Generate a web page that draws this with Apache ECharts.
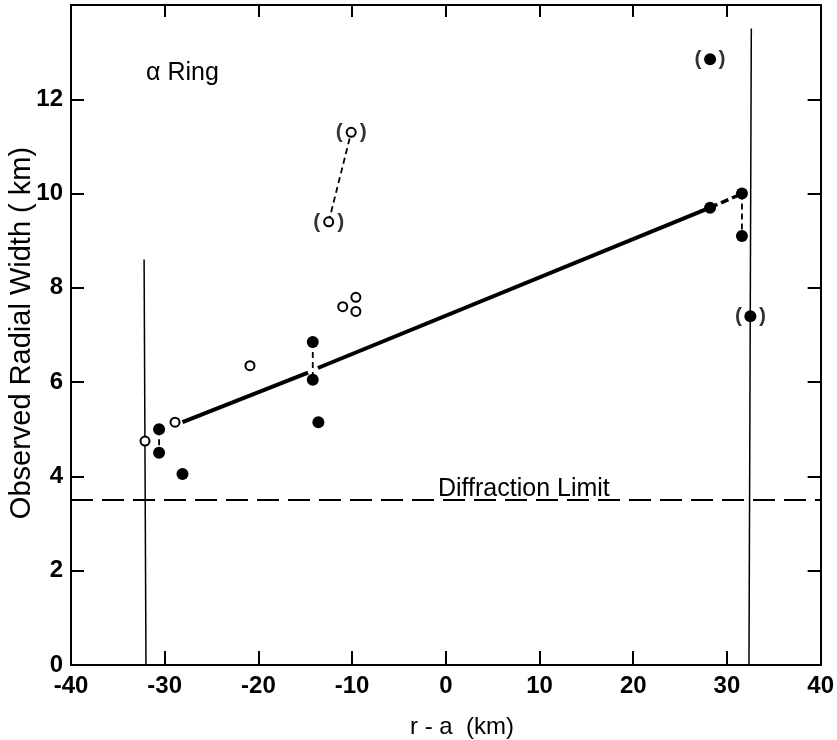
<!DOCTYPE html>
<html>
<head>
<meta charset="utf-8">
<script src="https://cdn.jsdelivr.net/npm/echarts@6/dist/echarts.min.js"></script>
<style>
  html, body { margin: 0; padding: 0; background: #fff; }
  #myChart { width: 837px; height: 740px; }
</style>
</head>
<body>
<div id="myChart"></div>
<script>
// ---- data (x = r-a in km, y = observed width in km)
var openPts = [[-32.1, 4.75], [-28.9, 5.15], [-20.9, 6.35], [-11.0, 7.6], [-9.6, 7.8], [-9.6, 7.5]];
var openParenPts = [[-12.5, 9.4], [-10.1, 11.3]];
var filledPts = [[-30.6, 5.0], [-30.6, 4.5], [-28.1, 4.05], [-14.2, 6.85], [-14.2, 6.05],
  [-13.6, 5.15], [28.2, 9.7], [31.6, 10.0], [31.6, 9.1]];
var filledParenPts = [[28.2, 12.85], [32.5, 7.4]];

var fitLineA = [[-28.1, 5.15], [-14.7, 6.2]];
var fitLineB = [[-13.65, 6.3], [28.2, 9.7]];
var fitLineEnd = [[28.2, 9.7], [31.6, 10.0]];

var pairLinks = [
  [[-30.6, 5.0], [-30.6, 4.5]],
  [[-14.2, 6.85], [-14.2, 6.05]],
  [[-12.5, 9.4], [-10.1, 11.3]],
  [[31.6, 10.0], [31.6, 9.1]]
];

var diffractionLimit = 3.5;
var leftEdge = [[-32.0, 0], [-32.2, 8.6]];
var rightEdge = [[32.35, 0], [32.6, 13.5]];

var xTicks = { min: -40, max: 40, step: 10 };
var yTicks = { min: 0, max: 14, step: 2 };

var FONT = "Liberation Sans";

function linkSeries(pts, width, dash) {
  return {
    type: "line",
    data: pts,
    symbol: "none",
    silent: true,
    z: 2,
    lineStyle: { color: "#000", width: width, type: dash },
  };
}

// one bracket glyph beside each doubtful point
function parenSeries(glyph, dx) {
  return {
    type: "scatter",
    data: openParenPts.concat(filledParenPts),
    symbolSize: 1,
    silent: true,
    itemStyle: { color: "rgba(0,0,0,0)" },
    label: {
      show: true,
      position: "inside",
      offset: [dx, 0],
      formatter: glyph,
      color: "#000",
      fontFamily: FONT,
      fontWeight: "bold",
      fontSize: 21,
    },
    z: 6,
  };
}

var series = [];

// diffraction limit across the whole frame
series.push(linkSeries([[xTicks.min, diffractionLimit], [xTicks.max, diffractionLimit]], 2, [22, 9]));
series.push(linkSeries(leftEdge, 1.5, "solid"));
series.push(linkSeries(rightEdge, 1.5, "solid"));
series.push(linkSeries(fitLineA, 4, "solid"));
series.push(linkSeries(fitLineB, 4, "solid"));
series.push(linkSeries(fitLineEnd, 3.5, [8, 4]));
for (var i = 0; i < pairLinks.length; i++) {
  series.push(linkSeries(pairLinks[i], 1.8, [6, 4]));
}

series.push({
  type: "scatter",
  data: openPts.concat(openParenPts),
  symbol: "circle",
  symbolSize: 9,
  z: 5,
  itemStyle: { color: "#fff", borderColor: "#000", borderWidth: 2, opacity: 1 },
});
series.push({
  type: "scatter",
  data: filledPts.concat(filledParenPts),
  symbol: "circle",
  symbolSize: 12,
  z: 5,
  itemStyle: { color: "#000", opacity: 1 },
});
series.push(parenSeries("(", -12));
series.push(parenSeries(")", 12));

var axisLine = { show: true, onZero: false, lineStyle: { color: "#000", width: 2 } };
var tickStyle = { color: "#000", width: 2 };

var myChart = echarts.init(document.getElementById("myChart"));
var option = {
  backgroundColor: "#fff",
  animation: false,
  grid: { left: 71, right: 16, top: 5, bottom: 75 },
  xAxis: [
    {
      type: "value",
      min: xTicks.min,
      max: xTicks.max,
      interval: xTicks.step,
      axisLine: axisLine,
      axisTick: { inside: true, length: 14, lineStyle: tickStyle },
      axisLabel: { color: "#000", fontFamily: FONT, fontWeight: "bold", fontSize: 24, margin: 9 },
      splitLine: { show: false },
    },
    {
      type: "value",
      position: "top",
      min: xTicks.min,
      max: xTicks.max,
      interval: xTicks.step,
      axisLine: axisLine,
      axisTick: { inside: true, length: 12, lineStyle: tickStyle },
      axisLabel: { show: false },
      splitLine: { show: false },
    },
  ],
  yAxis: [
    {
      type: "value",
      min: yTicks.min,
      max: yTicks.max,
      interval: yTicks.step,
      axisLine: axisLine,
      axisTick: { show: true, inside: true, length: 13, lineStyle: tickStyle },
      axisLabel: {
        color: "#000",
        fontFamily: FONT,
        fontWeight: "bold",
        fontSize: 24,
        margin: 8,
        formatter: function (v) {
          return v === yTicks.max ? "" : String(v);
        },
      },
      splitLine: { show: false },
    },
    {
      type: "value",
      position: "right",
      min: yTicks.min,
      max: yTicks.max,
      interval: yTicks.step,
      axisLine: axisLine,
      axisTick: { show: true, inside: true, length: 13, lineStyle: tickStyle },
      axisLabel: { show: false },
      splitLine: { show: false },
    },
  ],
  graphic: [
    {
      type: "text",
      x: 22,
      y: 333,
      rotation: Math.PI / 2,
      style: {
        text: "Observed Radial Width ( km)",
        font: "29px 'Liberation Sans'",
        fill: "#000",
        align: "center",
        verticalAlign: "middle",
      },
    },
    {
      type: "text",
      x: 462,
      y: 727,
      style: {
        text: "r - a  (km)",
        font: "24px 'Liberation Sans'",
        fill: "#000",
        align: "center",
        verticalAlign: "middle",
      },
    },
    {
      type: "text",
      x: 146,
      y: 73,
      style: {
        text: "α Ring",
        font: "25px 'Liberation Sans'",
        fill: "#000",
        align: "left",
        verticalAlign: "middle",
      },
    },
    {
      type: "text",
      x: 438,
      y: 489,
      style: {
        text: "Diffraction Limit",
        font: "25px 'Liberation Sans'",
        fill: "#000",
        align: "left",
        verticalAlign: "middle",
      },
    },
  ],
  series: series,
};
myChart.setOption(option);
</script>
</body>
</html>
